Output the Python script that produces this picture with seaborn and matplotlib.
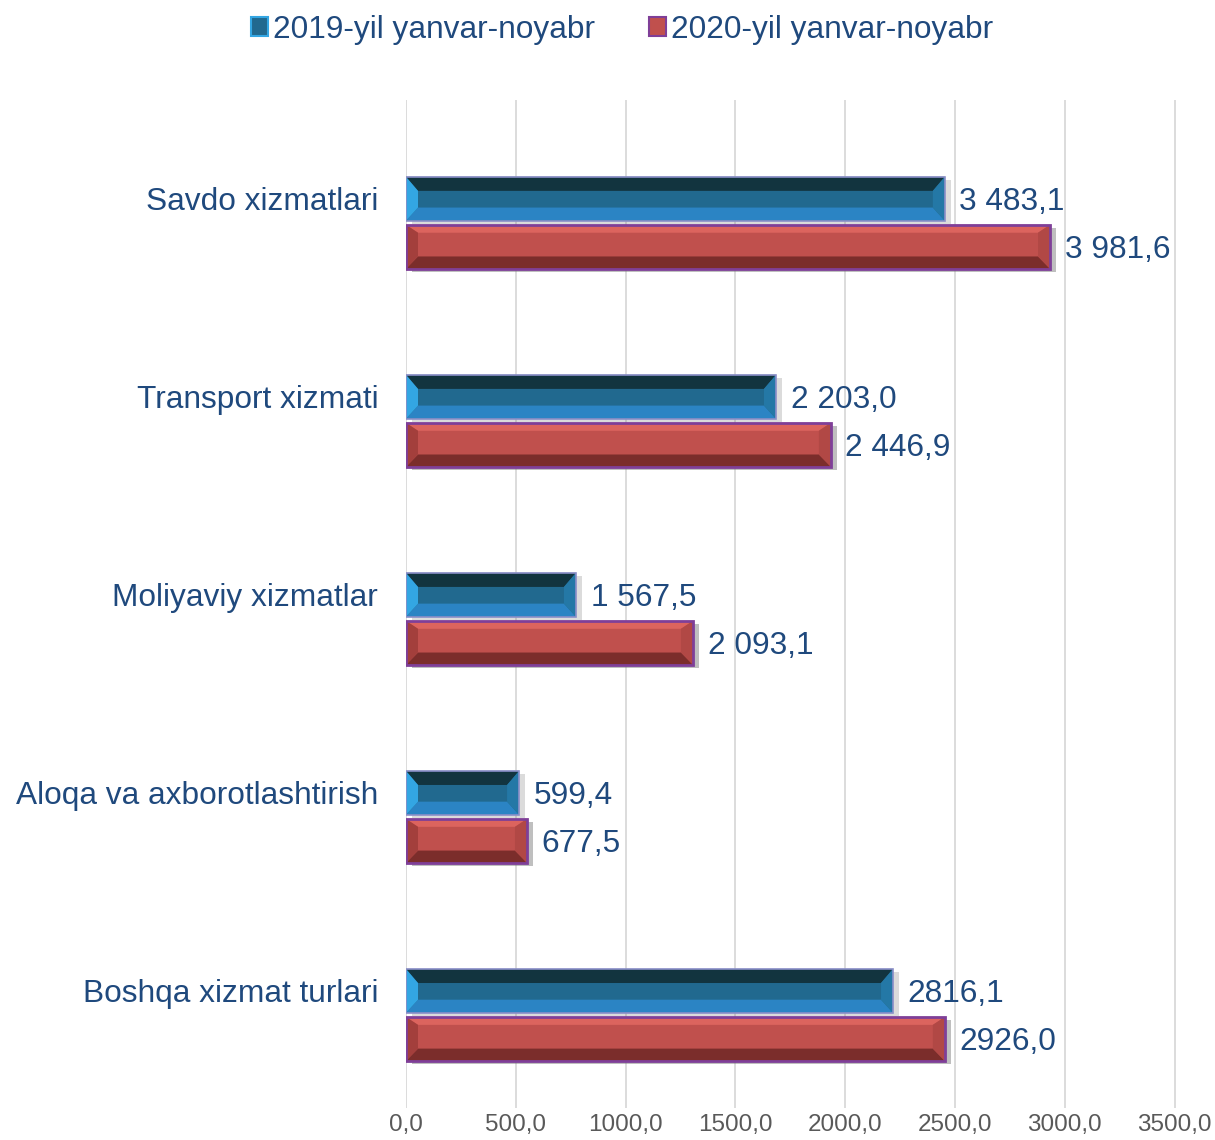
import matplotlib
matplotlib.use("Agg")
import matplotlib.pyplot as plt
import seaborn as sns
import pandas as pd
import numpy as np
from matplotlib.patches import Polygon, Patch, Rectangle
import matplotlib.patheffects as pe
from matplotlib.ticker import FuncFormatter

categories = ["Savdo xizmatlari", "Transport xizmati", "Moliyaviy xizmatlar",
              "Aloqa va axborotlashtirish", "Boshqa xizmat turlari"]
series = ["2019-yil yanvar-noyabr", "2020-yil yanvar-noyabr"]
# bar lengths as drawn in the picture (axis units)
bars_2019 = [2454, 1685, 774, 515, 2218]
bars_2020 = [2933, 1935, 1307, 551, 2454]
# value labels as printed next to the bars
labels_2019 = ["3 483,1", "2 203,0", "1 567,5", "599,4", "2816,1"]
labels_2020 = ["3 981,6", "2 446,9", "2 093,1", "677,5", "2926,0"]
x_ticks = [0, 500, 1000, 1500, 2000, 2500, 3000, 3500]

sns.set_theme(style="white")
plt.rcParams['font.family'] = ['Liberation Sans', 'DejaVu Sans']

TEXT = "#1F497D"
FS = 22.8

df = pd.DataFrame({
    "category": categories * 2,
    "series": [series[0]] * len(categories) + [series[1]] * len(categories),
    "value": bars_2019 + bars_2020,
})

fig = plt.figure(figsize=(12.15, 11.4), dpi=100)
px_per_unit = (1174.5 - 406) / 3500
xmax = 3560
ax = fig.add_axes([406 / 1215, 1 - 1108 / 1140, xmax * px_per_unit / 1215, (1108 - 100) / 1140])

palette = {series[0]: "#21698F", series[1]: "#C0504D"}
WIDTH = 0.485
sns.barplot(data=df, y="category", x="value", hue="series", order=categories,
            hue_order=series, palette=palette, width=WIDTH, gap=0.085,
            orient="h", ax=ax, legend=False, saturation=1)

styles = [
    dict(top="#12343F", bottom="#2B84C4", left="#33A6E3", right="#2478A6",
         edge="#8A8FC8", lw=1.2, ttop=0.32, tbot=0.30, shadow=0.25),
    dict(top="#DC645E", bottom="#7B2D2B", left="#A33F3C", right="#B14845",
         edge="#7F3F98", lw=2.0, ttop=0.18, tbot=0.28, shadow=0.45),
]
dx = 12 / px_per_unit
for cont, st in zip(ax.containers, styles):
    for p in cont:
        x0, y0, w, h = p.get_x(), p.get_y(), p.get_width(), p.get_height()
        x1, y1 = x0 + w, y0 + h
        z = p.get_zorder()
        p.set_path_effects([pe.SimplePatchShadow(offset=(4.5, -2.5), shadow_rgbFace="0.45",
                                                 alpha=st["shadow"]),
                            pe.Normal()])
        p.set_edgecolor("none")
        dt, db = h * st["ttop"], h * st["tbot"]
        faces = [
            ([(x0, y0), (x1, y0), (x1 - dx, y0 + dt), (x0 + dx, y0 + dt)], st["top"]),
            ([(x0, y1), (x1, y1), (x1 - dx, y1 - db), (x0 + dx, y1 - db)], st["bottom"]),
            ([(x0, y0), (x0 + dx, y0 + dt), (x0 + dx, y1 - db), (x0, y1)], st["left"]),
            ([(x1, y0), (x1 - dx, y0 + dt), (x1 - dx, y1 - db), (x1, y1)], st["right"]),
        ]
        for pts, c in faces:
            ax.add_patch(Polygon(pts, closed=True, facecolor=c, edgecolor="none", zorder=z + 0.1))
        ax.add_patch(Rectangle((x0, y0), w, h, fill=False, edgecolor=st["edge"],
                               lw=st["lw"], zorder=z + 0.2))

for cont, labs in zip(ax.containers, [labels_2019, labels_2020]):
    anns = ax.bar_label(cont, labels=labs, padding=10.5, fontsize=FS, color=TEXT)
    for a in anns:
        a.xyann = (10.5, -2.5)

ax.set_xlim(0, xmax)
ax.set_ylim(4.47, -0.62)
ax.set_xticks(x_ticks)
ax.xaxis.set_major_formatter(FuncFormatter(lambda v, _: f"{v:.1f}".replace(".", ",")))
ax.set_yticks(np.arange(len(categories)) - WIDTH / 4, labels=categories)
ax.tick_params(axis="y", length=0, pad=20, labelsize=FS, labelcolor=TEXT)
ax.tick_params(axis="x", length=0, pad=4, labelsize=17.5, labelcolor="#595959")
ax.grid(axis="x", color="#D9D9D9", lw=1.3)
ax.grid(axis="y", visible=False)
ax.set_axisbelow(True)
for s in ax.spines.values():
    s.set_visible(False)
ax.set_xlabel("")
ax.set_ylabel("")

handles = [Patch(facecolor="#21698F", edgecolor="#33A6E3", lw=1.5),
           Patch(facecolor="#C0504D", edgecolor="#7F3F98", lw=1.5)]
fig.legend(handles, series, loc="center", bbox_to_anchor=(0.512, 1 - 30 / 1140), ncol=2,
           frameon=False, fontsize=FS, handlelength=0.55, handleheight=0.55,
           handletextpad=0.15, columnspacing=1.7, labelcolor=TEXT)

fig.savefig("out.png", dpi=100)
